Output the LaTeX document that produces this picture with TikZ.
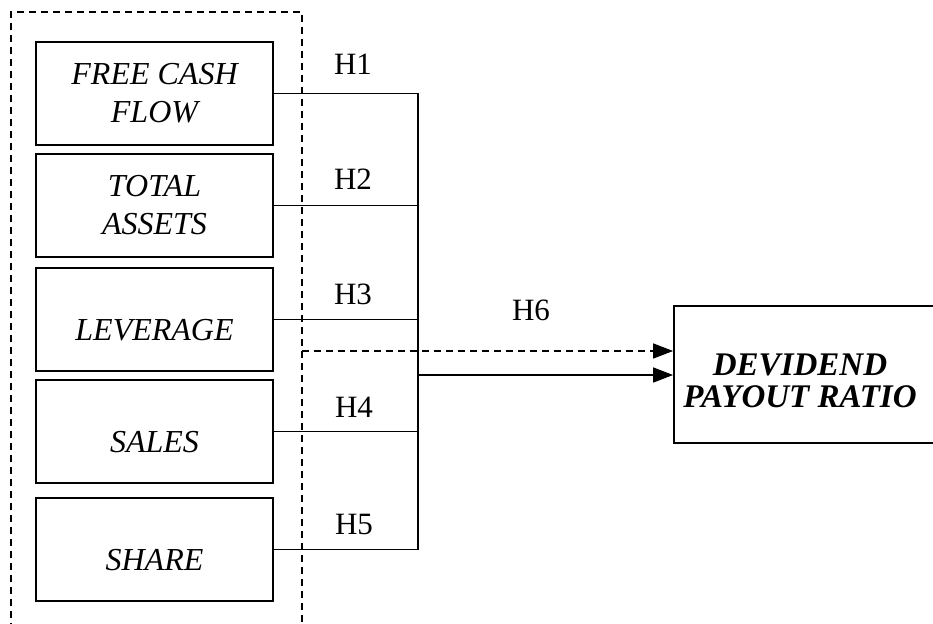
\documentclass[tikz,border=0pt]{standalone}
\usepackage{fontspec}
\setmainfont{Liberation Serif}
\usetikzlibrary{arrows.meta}
\tikzset{
  varbox/.style={draw,line width=1.8pt,minimum width=237pt,minimum height=103pt,
    align=center,inner sep=0pt,font=\fontsize{32}{38}\selectfont\itshape},
  onebox/.style={varbox,text height=41pt,text depth=0pt},
  hyp/.style={font=\fontsize{31}{31}\selectfont},
  frame/.style={line width=1.5pt,dash pattern=on 7pt off 5pt},
  link/.style={line width=1.6pt},
  tip/.style={-{Triangle[length=20pt,width=15pt]}}
}
\begin{document}
\begin{tikzpicture}[x=1pt,y=-1pt]
\useasboundingbox (0,0) rectangle (933,623);
\draw[frame] (11,630) -- (11,12) -- (302,12) -- (302,630);

\node[varbox] (fcf) at (154.5,93.5) {FREE CASH\\FLOW};
\node[varbox] (ta) at (154.5,205.5) {TOTAL\\ASSETS};
\node[onebox] (lev) at (154.5,319.5) {LEVERAGE};
\node[onebox] (sal) at (154.5,431.5) {SALES};
\node[onebox] (sh) at (154.5,549.5) {SHARE};

% dependent variable, right edge runs off the page
\node[draw,line width=1.8pt,minimum width=272pt,minimum height=137pt,inner sep=0pt] (dpr) at (810,374.5) {};
\node[align=center,inner sep=0pt,font=\fontsize{33}{32}\selectfont\bfseries\itshape] (dprtext) at (800,381) {DEVIDEND\\PAYOUT RATIO};

\node[hyp] (h1) at (353,64) {H1};
\node[hyp] (h2) at (353,179) {H2};
\node[hyp] (h3) at (353,294) {H3};
\node[hyp] (h4) at (354,407) {H4};
\node[hyp] (h5) at (354,524) {H5};
\node[hyp] (h6) at (531,310) {H6};

\coordinate (jn) at (418,375);
\coordinate (dsrc) at (302,351);
\foreach \v in {fcf,ta,lev,sal,sh}
  \draw[link] (\v.east) -- (\v.east -| jn);
\draw[link] (fcf.east -| jn) -- (sh.east -| jn);
\draw[link,tip] (jn) -- (dpr.west |- jn);
\draw[frame,tip] (dsrc) -- (dpr.west |- dsrc);
\end{tikzpicture}
\end{document}
